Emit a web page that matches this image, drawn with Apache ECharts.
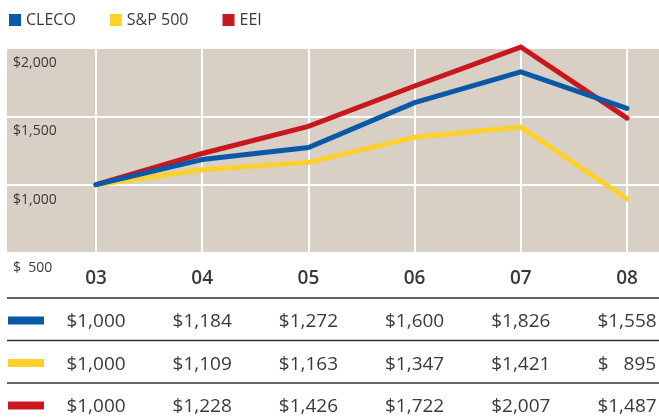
<!DOCTYPE html>
<html>
<head>
<meta charset="utf-8">
<script src="https://cdn.jsdelivr.net/npm/echarts@6/dist/echarts.min.js"></script>
<style>
  html, body { margin: 0; padding: 0; background: #fff; }
  #chart { width: 659px; height: 420px; }
</style>
</head>
<body>
<div id="chart"></div>
<script>
// data
const years = ["03", "04", "05", "06", "07", "08"]
const cleco = [1000, 1184, 1272, 1600, 1826, 1558]
const sp500 = [1000, 1109, 1163, 1347, 1421, 895]
const eei = [1000, 1228, 1426, 1722, 2007, 1487]
const yLabels = ["$  500", "$1,000", "$1,500", "$2,000"]

const legendNames = ["CLECO", "S&P 500", "EEI"]
const colors = { CLECO: "#0a58a8", "S&P 500": "#fdd12a", EEI: "#c9171e" }
const font = "'Open Sans', 'Noto Sans', sans-serif"
const textColor = "#3a3a3a"

const money = (v) => (v >= 1000 ? "$" + v.toLocaleString("en-US") : "$   " + v)

const chart = echarts.init(document.getElementById("chart"), null, { renderer: "canvas" })

const lineSeries = (name, data) => ({
  name,
  type: "line",
  xAxisIndex: 1,
  yAxisIndex: 1,
  data,
  symbol: "none",
  clip: false,
  color: colors[name],
  lineStyle: { width: 5, color: colors[name], cap: "round", join: "miter" },
  emphasis: { disabled: true },
})

const option = {
  animation: false,
  textStyle: { fontFamily: font },
  legend: {
    data: legendNames,
    left: 9,
    top: 12,
    padding: 0,
    icon: "rect",
    itemWidth: 12,
    itemHeight: 12,
    itemGap: 34,
    textStyle: { fontSize: 16, color: textColor, fontFamily: font },
  },
  grid: [
    // beige background + horizontal lines
    { left: 7, right: 0, top: 48, height: 205, show: true, backgroundColor: "#d8cfc5", borderWidth: 0 },
    // plot region between first and last year
    { left: 96, right: 32, top: 48, height: 205 },
  ],
  xAxis: [
    { gridIndex: 0, type: "value", show: false },
    {
      gridIndex: 1,
      type: "category",
      boundaryGap: false,
      data: years,
      axisLine: { show: false },
      axisTick: { show: false },
      splitLine: { show: true, lineStyle: { color: "#ffffff", width: 2 } },
      axisLabel: { margin: 16, fontSize: 19, fontWeight: 600, color: textColor, fontFamily: font },
    },
  ],
  yAxis: [
    {
      gridIndex: 0,
      type: "value",
      min: 500,
      max: 2000,
      interval: 500,
      axisLine: { show: false },
      axisTick: { show: false },
      splitLine: { show: true, lineStyle: { color: "#ffffff", width: 2 } },
      axisLabel: {
        inside: true,
        margin: 6,
        align: "left",
        verticalAlign: "top",
        padding: [8, 0, 0, 0],
        fontSize: 14,
        color: textColor,
        fontFamily: font,
        formatter: (v) => yLabels[(v - 500) / 500],
      },
    },
    { gridIndex: 1, type: "value", min: 500, max: 2000, show: false },
  ],
  series: [lineSeries("S&P 500", sp500), lineSeries("EEI", eei), lineSeries("CLECO", cleco)],
}

chart.setOption(option)

// table under the chart, columns taken from the x axis
const rows = [
  { name: "CLECO", values: cleco },
  { name: "S&P 500", values: sp500 },
  { name: "EEI", values: eei },
]
const colX = years.map((y) => chart.convertToPixel({ xAxisIndex: 1 }, y))
const graphic = []
rows.forEach((row, i) => {
  const cy = 322 + i * 42.5
  graphic.push({
    type: "line",
    shape: { x1: 7, y1: cy - 24, x2: 659, y2: cy - 24 },
    style: { stroke: "#333", lineWidth: 1.5 },
  })
  graphic.push({
    type: "rect",
    shape: { x: 8, y: cy - 5.5, width: 36, height: 8 },
    style: { fill: colors[row.name] },
  })
  row.values.forEach((v, j) => {
    graphic.push({
      type: "text",
      x: colX[j],
      y: cy,
      style: {
        text: money(v),
        align: "center",
        verticalAlign: "middle",
        font: "19px " + font,
        fill: textColor,
      },
    })
  })
})
chart.setOption({ graphic })
</script>
</body>
</html>
